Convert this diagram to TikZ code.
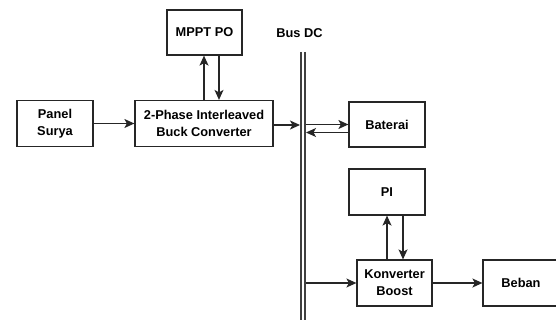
\documentclass[tikz,border=0pt]{standalone}
\usepackage{fontspec}
\setmainfont{Liberation Sans}
\usetikzlibrary{arrows.meta}
\begin{document}
\begin{tikzpicture}[x={(1pt,0)},y={(0,-1pt)},
  blk/.style={draw=black!85,line width=1.2pt,inner sep=0pt,align=center,font=\bfseries\fontsize{12.8}{17}\selectfont},
  lbl/.style={font=\bfseries\fontsize{12.8}{17}\selectfont},
  conn/.style={draw=black!85,line width=1.2pt,-{Stealth[length=10pt,width=9pt,inset=2.5pt]}},
  busline/.style={draw=black!75,line width=1.4pt}]
\clip (0,0) rectangle (556,320);
\fill[white] (0,0) rectangle (556,320);
\node[blk,minimum width=75pt,minimum height=45pt] (mppt) at (204.5,32.5) {MPPT PO};
\node[blk,minimum width=76pt,minimum height=46pt] (panel) at (55,123.5) {Panel\\Surya};
\node[blk,minimum width=138pt,minimum height=46pt] (buck) at (204,123.5) {2-Phase Interleaved\\Buck Converter};
\node[blk,minimum width=76pt,minimum height=45pt] (bat) at (387,124.5) {Baterai};
\node[blk,minimum width=76pt,minimum height=46pt] (pi) at (387,192) {PI};
\node[blk,minimum width=75pt,minimum height=46pt] (boost) at (394.5,283) {Konverter\\Boost};
\node[blk,minimum width=86pt,minimum height=46pt] (beban) at (526,283) {};
\node[lbl] (beblbl) at (521,283) {Beban};
\node[lbl] (buslbl) at (299.5,33) {Bus DC};
% bus
\coordinate (bl1) at (301,52);
\coordinate (bl2) at (301,322);
\coordinate (br1) at (305,52);
\coordinate (br2) at (305,322);
\draw[busline] (bl1) -- (bl2);
\draw[busline] (br1) -- (br2);
\coordinate (busIn) at (300,125);
\coordinate (busOut) at (306,124.5);
\coordinate (busBat) at (306,132.5);
\coordinate (busBoost) at (306,283);
% connectors
\draw[conn] (panel.east) -- (buck.west);
\draw[conn] (buck.east |- busIn) -- (busIn);
\draw[conn] (busOut) -- (bat.west |- busOut);
\draw[conn] (bat.west |- busBat) -- (busBat);
\draw[conn] (busBoost) -- (boost.west);
\draw[conn] (boost.east) -- (beban.west);
\draw[conn] ([xshift=-0.5pt]mppt.south |- buck.north) -- ([xshift=-0.5pt]mppt.south);
\draw[conn] ([xshift=14.5pt]mppt.south) -- ([xshift=14.5pt]mppt.south |- buck.north);
\draw[conn] (pi.south |- boost.north) -- (pi.south);
\draw[conn] ([xshift=16pt]pi.south) -- ([xshift=16pt]pi.south |- boost.north);
\end{tikzpicture}
\end{document}
